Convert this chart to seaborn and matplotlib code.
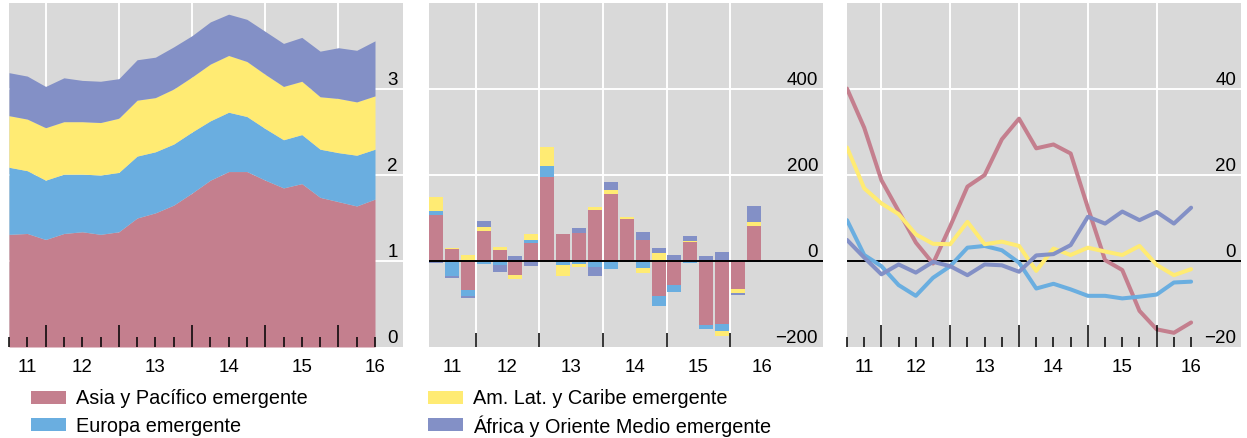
import numpy as np
import pandas as pd
import matplotlib
matplotlib.use("Agg")
import matplotlib.pyplot as plt
import matplotlib.transforms as mtransforms
from matplotlib.patches import Rectangle
import seaborn as sns

regions = ["Asia y Pacífico emergente", "Europa emergente",
           "Am. Lat. y Caribe emergente", "África y Oriente Medio emergente"]
colors = ["#c47f8e", "#6aaee0", "#ffeb73", "#8390c6"]

quarters = list(range(21))
years = ["11", "12", "13", "14", "15", "16"]
year_breaks = [2, 6, 10, 14, 18]

# panel 1: stocks (stacked area)
stock_asia = [1.31, 1.32, 1.25, 1.32, 1.34, 1.31, 1.34, 1.50, 1.56, 1.65, 1.79,
              1.94, 2.04, 2.04, 1.94, 1.85, 1.90, 1.74, 1.69, 1.64, 1.72]
stock_eur = [0.78, 0.73, 0.69, 0.69, 0.67, 0.69, 0.69, 0.72, 0.71, 0.71, 0.71,
             0.69, 0.69, 0.64, 0.60, 0.56, 0.57, 0.56, 0.57, 0.59, 0.58]
stock_lat = [0.60, 0.60, 0.61, 0.61, 0.61, 0.61, 0.63, 0.65, 0.63, 0.64, 0.64,
             0.66, 0.66, 0.64, 0.63, 0.62, 0.62, 0.61, 0.63, 0.62, 0.62]
stock_afr = [0.50, 0.50, 0.48, 0.51, 0.48, 0.48, 0.46, 0.47, 0.47, 0.49, 0.48,
             0.49, 0.48, 0.49, 0.50, 0.50, 0.51, 0.53, 0.59, 0.60, 0.64]

# panel 2: flows (stacked bars)
flow_asia = [108, 29, -67, 69, 25, -33, 42, 195, 62, 66, 118,
             155, 97, 48, -82, -56, 44, -149, -147, -64, 81]
flow_eur = [9, -35, -14, -8, -10, 0, 7, 25, -9, -8, -15,
            -19, 0, -16, -23, -17, -5, -10, -16, 3, -3]
flow_lat = [32, 2, 13, 11, 7, -8, 13, 45, -26, -5, 7,
            9, 5, -12, 18, 3, 2, 0, -12, -11, 9]
flow_afr = [-4, -5, -5, 12, -16, 11, -12, 0, 0, 10, -19,
            19, -3, 19, 12, 12, 11, 11, 22, -3, 37]

# panel 3: growth rates (lines)
growth_asia = [40.1, 31.0, 18.8, 11.6, 4.3, -0.6, 8.1, 17.3, 20.0, 28.3, 33.1,
               26.2, 27.1, 25.0, 12.4, 0.2, -2.1, -11.6, -15.9, -16.7, -14.3]
growth_eur = [9.5, 1.4, -1.2, -5.6, -8.1, -3.9, -1.2, 3.1, 3.5, 2.5, -0.4,
              -6.4, -5.3, -6.6, -8.1, -8.1, -8.7, -8.3, -7.8, -5.0, -4.8]
growth_lat = [26.4, 16.9, 13.4, 10.9, 6.2, 4.0, 3.9, 9.1, 3.9, 4.5, 3.5,
              -2.3, 2.9, 1.4, 3.1, 2.2, 1.4, 3.5, -0.9, -3.3, -1.9]
growth_afr = [4.9, 0.8, -3.1, -0.8, -2.7, -0.2, -1.2, -3.3, -0.8, -1.0, -2.5,
              1.3, 1.6, 3.7, 10.3, 8.7, 11.5, 9.5, 11.4, 8.7, 12.4]

yticks1 = [0, 1, 2, 3]
yticks2 = [-200, 0, 200, 400]
yticks3 = [-20, 0, 20, 40]

sns.set_theme(style="dark", rc={"axes.facecolor": "#d9d9d9"})
plt.rcParams["font.family"] = ["Liberation Sans", "DejaVu Sans"]
FS = 13.5
FS_LEG = 14.3

W, H = 1247, 438
fig = plt.figure(figsize=(W / 100, H / 100), dpi=100)
fig.patch.set_facecolor("white")


def make_ax(left_px):
    return fig.add_axes([left_px / W, 1 - 347 / H, 394 / W, 344 / H])


ax1 = make_ax(9)
ax2 = make_ax(429)
ax3 = make_ax(847)


def style(ax, ylim, yticks, vlines, zero_black):
    ax.set_ylim(*ylim)
    ax.set_axisbelow(False)
    for s in ax.spines.values():
        s.set_visible(False)
    ax.grid(False)
    for v in vlines:
        ax.axvline(v, color="white", lw=1.4, zorder=0.5)
    for t in yticks:
        if t == ylim[0]:
            continue
        if t == 0 and zero_black:
            continue
        ax.axhline(t, color="white", lw=1.4, zorder=0.5)
    ax.set_yticks([])
    trans = mtransforms.blended_transform_factory(ax.transAxes, ax.transData)
    for t in yticks:
        lab = str(t).replace("-", "\u2212")
        ax.text(1 - 5 / 394, t, lab, transform=trans, ha="right", va="bottom",
                fontsize=FS, color="black")
    ax.tick_params(axis="x", which="both", direction="in", color="black",
                   labelbottom=False, bottom=True, width=1.1)
    ax.tick_params(axis="x", which="major", length=16)
    ax.tick_params(axis="x", which="minor", length=7)


def year_labels(ax, pos):
    trans = mtransforms.blended_transform_factory(ax.transData, ax.transAxes)
    for p, y in zip(pos, years):
        ax.text(p, -21 / 344, y, transform=trans, ha="center", va="center",
                fontsize=FS, color="black")


# panel 1
ax1.stackplot(quarters, stock_asia, stock_eur, stock_lat, stock_afr,
              colors=colors, linewidth=0, zorder=1)
ax1.set_xlim(0, 21.53)
style(ax1, (0, 4), yticks1, year_breaks, False)
ax1.set_xticks(year_breaks)
ax1.set_xticks(quarters, minor=True)
year_labels(ax1, [1, 4, 8, 12, 16, 20])

# panel 2
flows = [flow_asia, flow_eur, flow_lat, flow_afr]
pos_base = np.zeros(len(quarters))
neg_base = np.zeros(len(quarters))
for vals, c in zip(flows, colors):
    v = np.array(vals, dtype=float)
    p = np.where(v > 0, v, 0)
    n = np.where(v < 0, v, 0)
    ax2.bar(quarters, p, bottom=pos_base, width=0.88, color=c, lw=0, zorder=1)
    ax2.bar(quarters, n, bottom=neg_base, width=0.88, color=c, lw=0, zorder=1)
    pos_base += p
    neg_base += n
ax2.set_xlim(-0.44, 24.34)
breaks2 = [b + 0.5 for b in year_breaks]
style(ax2, (-200, 600), yticks2, breaks2, True)
ax2.axhline(0, color="black", lw=1.4, zorder=3)
ax2.set_xticks(breaks2)
ax2.tick_params(axis="x", which="major", length=10)
year_labels(ax2, [1, 4.5, 8.5, 12.5, 16.5, 20.5])

# panel 3
growth = pd.DataFrame({
    "q": quarters * 4,
    "val": growth_asia + growth_eur + growth_lat + growth_afr,
    "region": sum([[r] * len(quarters) for r in regions], []),
})
ax3.axhline(0, color="black", lw=1.4, zorder=1.5)
sns.lineplot(data=growth, x="q", y="val", hue="region", hue_order=regions,
             palette=colors, lw=2.9, legend=False, ax=ax3, zorder=2)
ax3.set_xlim(0, 22.9)
ax3.set_xlabel("")
ax3.set_ylabel("")
style(ax3, (-20, 60), yticks3, year_breaks, True)
ax3.set_xticks(year_breaks)
ax3.set_xticks(quarters, minor=True)
year_labels(ax3, [1, 4, 8, 12, 16, 20])

# legend, two columns drawn by hand so the rows line up
leg_cols = [31, 428]
leg_rows = [397, 424]
for i, (c, r) in enumerate(zip(colors, regions)):
    x0 = leg_cols[i // 2]
    yc = leg_rows[i % 2]
    fig.patches.append(Rectangle((x0 / W, 1 - (yc + 6.5) / H), 35 / W, 13 / H,
                                 facecolor=c, edgecolor="none",
                                 transform=fig.transFigure, figure=fig))
    fig.text((x0 + 45) / W, 1 - yc / H, r, ha="left", va="center_baseline",
             fontsize=FS_LEG, color="black")

fig.savefig("out.png", dpi=100)
